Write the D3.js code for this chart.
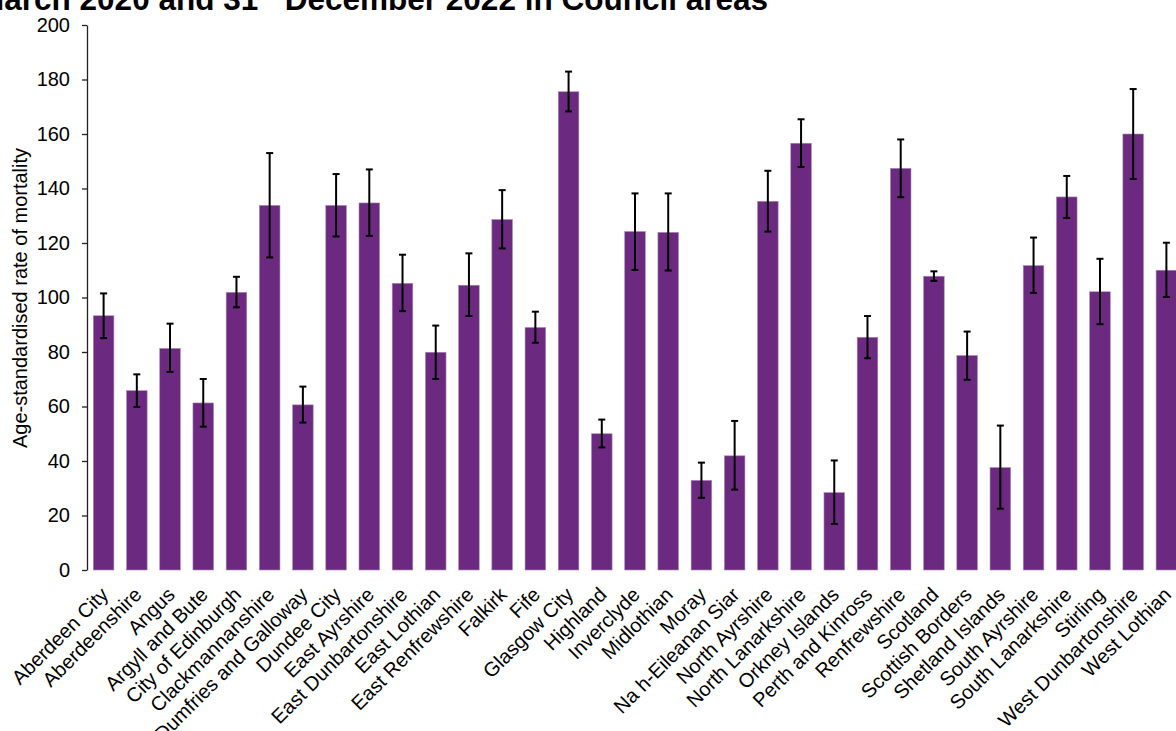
<!DOCTYPE html>
<html>
<head>
<meta charset="utf-8">
<script src="https://cdn.jsdelivr.net/npm/d3@7"></script>
<style>
  html, body { margin: 0; padding: 0; background: #fff; overflow: hidden; }
  svg { display: block; }
  text { font-family: "Liberation Sans", Arial, sans-serif; fill: #000; }
</style>
</head>
<body>
<svg id="chart" width="1176" height="731"></svg>
<script>
const categories = [
  "Aberdeen City", "Aberdeenshire", "Angus", "Argyll and Bute", "City of Edinburgh",
  "Clackmannanshire", "Dumfries and Galloway", "Dundee City", "East Ayrshire",
  "East Dunbartonshire", "East Lothian", "East Renfrewshire", "Falkirk", "Fife",
  "Glasgow City", "Highland", "Inverclyde", "Midlothian", "Moray", "Na h-Eileanan Siar",
  "North Ayrshire", "North Lanarkshire", "Orkney Islands", "Perth and Kinross",
  "Renfrewshire", "Scotland", "Scottish Borders", "Shetland Islands", "South Ayrshire",
  "South Lanarkshire", "Stirling", "West Dunbartonshire", "West Lothian"
];
const rates = [
  93.3, 65.8, 81.3, 61.3, 101.9,
  133.8, 60.6, 133.8, 134.7,
  105.2, 79.9, 104.5, 128.6, 89.0,
  175.5, 50.0, 124.2, 123.9, 32.9, 41.9,
  135.3, 156.6, 28.4, 85.4,
  147.4, 107.8, 78.7, 37.6, 111.7,
  136.9, 102.1, 160.0, 110.0
];
const upperCI = [
  101.5, 71.8, 90.4, 70.1, 107.6,
  153.0, 67.3, 145.3, 147.0,
  115.7, 89.7, 116.2, 139.4, 94.8,
  182.9, 55.2, 138.2, 138.2, 39.4, 54.7,
  146.5, 165.4, 40.2, 93.2,
  158.0, 109.6, 87.5, 53.0, 122.0,
  144.6, 114.2, 176.5, 120.1
];
const lowerCI = [
  85.1, 59.8, 72.7, 52.6, 96.4,
  114.7, 54.1, 122.4, 122.6,
  95.0, 70.1, 93.2, 118.0, 83.4,
  168.3, 45.0, 110.1, 109.9, 26.5, 29.5,
  124.2, 147.9, 16.9, 77.7,
  136.8, 106.1, 69.8, 22.5, 101.7,
  129.2, 90.2, 143.5, 100.2
];
const yTicks = [0, 20, 40, 60, 80, 100, 120, 140, 160, 180, 200];
const yTitle = "Age-standardised rate of mortality";

const data = categories.map((c, i) => ({ name: c, v: rates[i], lo: lowerCI[i], hi: upperCI[i] }));

const svg = d3.select("#chart");
const mLeft = 87, mRight = 1183, mTop = 25, mBottom = 570;
const barColor = "#6b2a7f";

const x = d3.scaleBand().domain(categories).range([mLeft, mRight]).paddingInner(0.38).paddingOuter(0.19);
const y = d3.scaleLinear().domain([0, 200]).range([mBottom, mTop]);

// Title (top cut off in original)
const title = svg.append("text")
  .attr("x", 768).attr("y", 10)
  .attr("text-anchor", "end")
  .attr("font-size", 31.5).attr("font-weight", "bold");
title.append("tspan").text("March 2020 and 31");
title.append("tspan").attr("font-size", 20).attr("dy", -17).text("st");
title.append("tspan").attr("dy", 17).text(" December 2022 in Council areas");

// Y axis
const yAxis = d3.axisLeft(y).tickValues(yTicks).tickSize(5).tickSizeOuter(0).tickPadding(12);
const gy = svg.append("g").attr("transform", `translate(${mLeft},0)`).call(yAxis);
gy.select(".domain").attr("stroke", "#222").attr("stroke-width", 1.3);
gy.selectAll(".tick line").attr("stroke", "#222").attr("stroke-width", 1.3);
gy.selectAll(".tick text").attr("font-size", 20).attr("font-family", "Liberation Sans, Arial, sans-serif").attr("fill", "#000");

svg.append("text")
  .attr("transform", `translate(27,298) rotate(-90)`)
  .attr("text-anchor", "middle")
  .attr("font-size", 20)
  .text(yTitle);

// Bars
svg.append("g").selectAll("rect").data(data).join("rect")
  .attr("x", d => x(d.name))
  .attr("width", x.bandwidth())
  .attr("y", d => y(d.v))
  .attr("height", d => y(0) - y(d.v))
  .attr("fill", barColor)
  .attr("stroke", "#a98bb3").attr("stroke-width", 0.6);

// Error bars
const eb = svg.append("g").attr("stroke", "#000").attr("stroke-width", 2);
const cx = d => x(d.name) + x.bandwidth() / 2;
eb.selectAll("line.v").data(data).join("line").attr("class", "v")
  .attr("x1", cx).attr("x2", cx).attr("y1", d => y(d.hi)).attr("y2", d => y(d.lo));
eb.selectAll("line.t").data(data).join("line").attr("class", "t")
  .attr("x1", d => cx(d) - 3.5).attr("x2", d => cx(d) + 3.5).attr("y1", d => y(d.hi)).attr("y2", d => y(d.hi));
eb.selectAll("line.b").data(data).join("line").attr("class", "b")
  .attr("x1", d => cx(d) - 3.5).attr("x2", d => cx(d) + 3.5).attr("y1", d => y(d.lo)).attr("y2", d => y(d.lo));

// X labels
svg.append("g").selectAll("text").data(categories).join("text")
  .attr("transform", c => `translate(${x(c) + x.bandwidth() / 2 + 6},${mBottom + 26}) rotate(-45)`)
  .attr("text-anchor", "end")
  .attr("font-size", 20)
  .text(c => c);
</script>
</body>
</html>
